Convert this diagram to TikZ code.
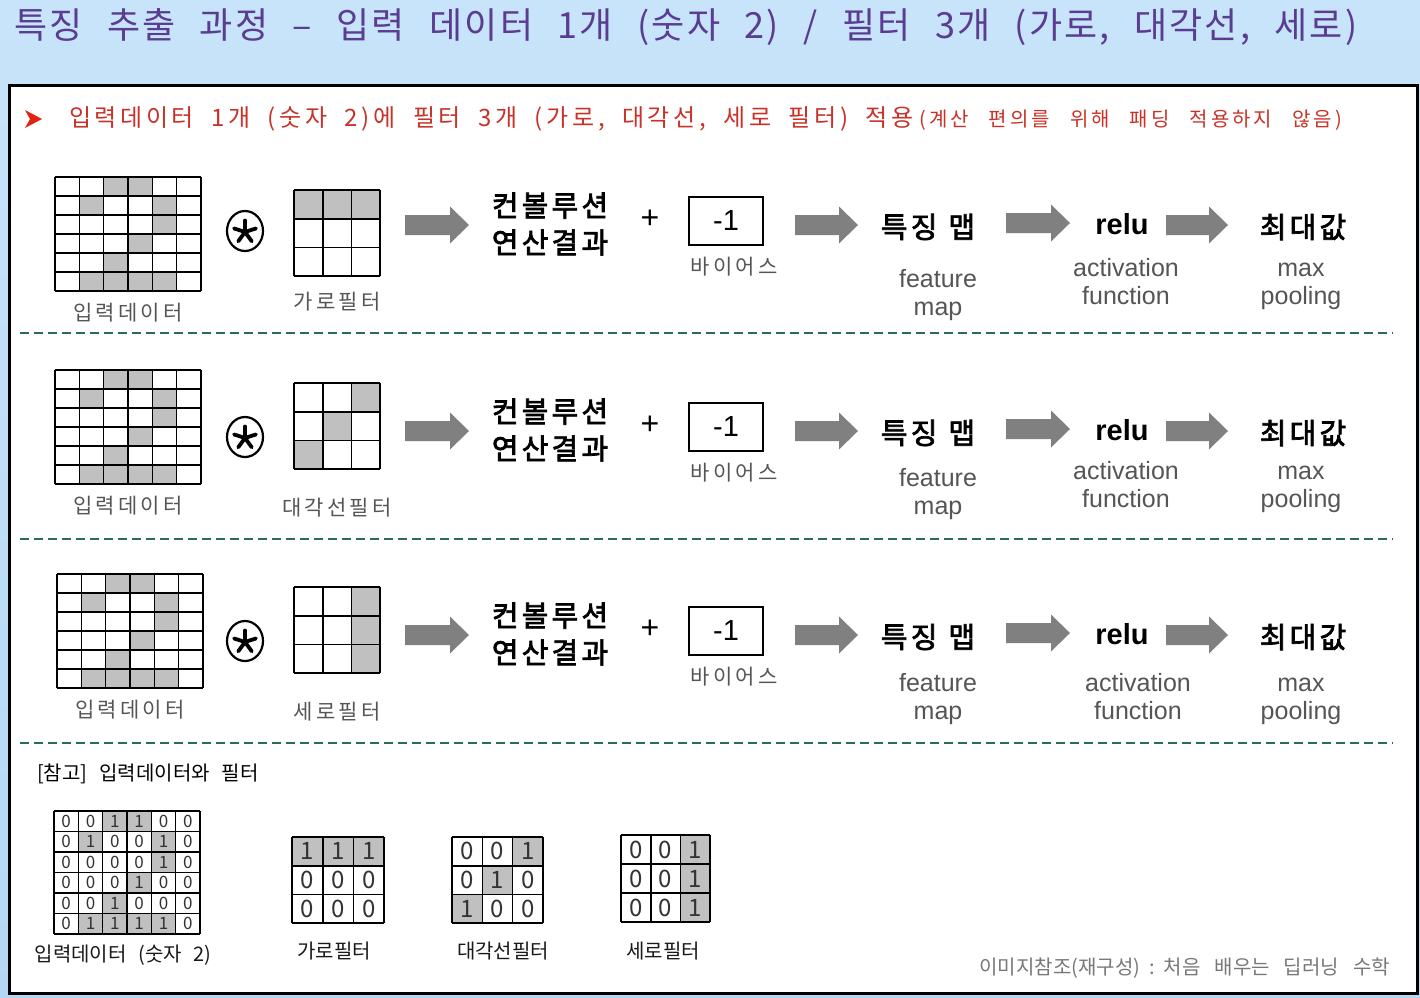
\documentclass[tikz,border=0pt]{standalone}
\usepackage{fontspec}
\setmainfont{Noto Sans CJK KR}
\newfontfamily\en{Liberation Sans}
\newfontfamily\krls[LetterSpace=15]{Noto Sans CJK KR}
\newfontfamily\krT[LetterSpace=6]{Noto Sans CJK KR}
\newfontfamily\krS[LetterSpace=15]{Noto Sans CJK KR}
\newfontfamily\krB[FakeBold=2.5,LetterSpace=11]{Noto Sans CJK KR}
\usetikzlibrary{calc}
\definecolor{titlepurple}{RGB}{90,60,145}
\definecolor{subred}{RGB}{200,50,40}
\definecolor{bulletred}{RGB}{225,35,20}
\definecolor{cellgray}{RGB}{192,192,192}
\definecolor{arrowgray}{RGB}{128,128,128}
\definecolor{dashgreen}{RGB}{40,108,92}
\definecolor{labgray}{RGB}{85,85,85}
\definecolor{creditgray}{RGB}{120,120,120}
\definecolor{bgtop}{RGB}{200,228,250}
\definecolor{bgbot}{RGB}{180,216,244}
\newcommand\fs[2]{\fontsize{#1}{#2}\selectfont}
\newcommand\hs[1]{\hspace{#1pt}}
\def\dInput{{0,0,1,1,0,0},{0,1,0,0,1,0},{0,0,0,0,1,0},{0,0,0,1,0,0},{0,0,1,0,0,0},{0,1,1,1,1,0}}
\def\dHor{{1,1,1},{0,0,0},{0,0,0}}
\def\dDia{{0,0,1},{0,1,0},{1,0,0}}
\def\dVer{{0,0,1},{0,0,1},{0,0,1}}
\tikzset{
 gridline/.style={line width=1.6pt, black},
 bigk/.style={inner sep=0, font=\krB\fs{29}{37}, align=center, text=black},
 labk/.style={inner sep=0, font=\krls\fs{21}{25}, text=labgray},
 eng/.style={inner sep=0, font=\en\fs{25}{28}, align=center, text=labgray},
 bigen/.style={inner sep=0, font=\en\bfseries\fs{29}{34}, text=black},
 dashline/.style={dashgreen, line width=2.5pt, dash pattern=on 9pt off 5pt},
 numtxt/.style={inner sep=0, text=black!80},
 bl/.style={inner sep=0, font=\fs{20}{24}, text=black!90},
}
% x0, y0, cell w, cell h, ncols, nrows, data, number font, name prefix
\newcommand\matgrid[9]{%
  \foreach [count=\rr] \rowvals in #7 {%
    \foreach [count=\cc] \val in \rowvals {%
      \ifnum\val=1 \fill[cellgray] ({#1+(\cc-1)*#3},{#2+(\rr-1)*#4}) rectangle ++(#3,#4);\fi
    }}%
  \foreach \i in {0,...,#5} \draw[gridline] ({#1+\i*#3},{#2}) -- ++(0,{#6*#4});
  \foreach \j in {0,...,#6} \draw[gridline] (#1,{#2+\j*#4}) -- ++({#5*#3},0);
  \if\relax\detokenize{#8}\relax\else
  \foreach [count=\rr] \rowvals in #7 {%
    \foreach [count=\cc] \val in \rowvals {%
      \node[numtxt, font=#8] (#9-\rr-\cc) at ({#1+(\cc-0.5)*#3},{#2+(\rr-0.5)*#4}) {\val};
    }}%
  \fi
}
\newcommand\barrow[3]{\fill[arrowgray] (#1,{#3-10}) -- ({#2-19},{#3-10}) -- ({#2-19},{#3-18.5}) -- (#2,{#3}) -- ({#2-19},{#3+18.5}) -- ({#2-19},{#3+10}) -- (#1,{#3+10}) -- cycle;}
\newcommand\engtwo[2]{\vphantom{Afp}#1\\\vphantom{Afp}#2}
% lo, ro, grid x, filter data, filter name, feature y, act x, act y, row name
\newcommand\procrow[9]{%
  \matgrid{#3}{177+#1}{24.33}{19}{6}{6}{\dInput}{}{g#9}
  \node[labk] (inlab#9) at ({#3+73},{313+#1}) {입력데이터};
  \draw[line width=2.2pt] (245,{231+#2}) ellipse [x radius=18, y radius=20];
  \coordinate (star#9) at (245,{232+#2});
  \foreach \a in {270,342,54,126,198} \draw[line width=3.8pt, line cap=round] (star#9) -- ++(\a:11.5);
  \matgrid{294}{190+#1}{28.7}{28.7}{3}{3}{#4}{}{f#9}
  \node[labk] (flab#9) at (337,{302+#2}) {#5};
  \barrow{405}{469}{225+#2}
  \node[bigk] (conv#9) at (550,{224+#2}) {컨볼루션\\연산결과};
  \node[inner sep=0, font=\en\fs{32}{36}] (plus#9) at (650,{219+#2}) {+};
  \node[draw, line width=1.5pt, minimum width=74pt, minimum height=48pt, inner sep=0, font=\en\fs{29}{32}] (bias#9) at (726,{221+#2}) {-1};
  \node[labk] (biaslab#9) at (734,{267+#2}) {바이어스};
  \barrow{795}{858}{225+#2}
  \node[bigk] (fmap#9) at (928,{227+#2}) {특징\hs{11}맵};
  \node[eng] (fmapen#9) at (938,{#6+16}) {\engtwo{feature}{map}};
  \barrow{1006}{1070}{223+#2}
  \node[bigen] (relu#9) at (1122,{224+#2}) {relu};
  \node[eng] (act#9) at (#7,{#8+16}) {\engtwo{activation}{function}};
  \barrow{1166}{1228}{225+#2}
  \node[bigk] (maxp#9) at (1303,{227+#2}) {최대값};
  \node[eng] (maxen#9) at (1301,{#8+16}) {\engtwo{max}{pooling}};
  \draw[dashline] (20,{333+#2}) -- (1393,{333+#2});
}
\begin{document}
\begin{tikzpicture}[x=1pt,y=-1pt]
\useasboundingbox (0,0) rectangle (1420,997);
\shade[top color=bgtop, bottom color=bgbot] (0,0) rectangle (1420,997);
\node[anchor=base west, inner sep=0, text=titlepurple, font=\krT\fs{36}{40}] (title) at (14,38) {특징\hs{24.5}추출\hs{24.5}과정\hs{24.5}–\hs{24.5}입력\hs{24.5}데이터\hs{24.5}1개\hs{24.5}(숫자\hs{24.5}2)\hs{24.5}/\hs{24.5}필터\hs{24.5}3개\hs{24.5}(가로,\hs{24.5}대각선,\hs{24.5}세로)};
\draw[line width=3pt, fill=white] (9,85) rectangle (1417,993);
\fill[bulletred] (25,110) -- (42,119) -- (25,128) -- (30,119) -- cycle;
\node[anchor=west, inner sep=0, text=subred, font=\krS\fs{24}{28}] (sub) at (69,119) {입력데이터\hs{17.5}1개\hs{17.5}(숫자\hs{17.5}2)에\hs{17.5}필터\hs{17.5}3개\hs{17.5}(가로,\hs{17.5}대각선,\hs{17.5}세로\hs{17.5}필터)\hs{17.5}적용\hs{6}{\fs{20}{24}(계산\hs{20}편의를\hs{20}위해\hs{20}패딩\hs{20}적용하지\hs{20}않음)}};
\procrow{0}{0}{55}{\dHor}{가로필터}{279}{1126}{268}{a}
\procrow{193}{206}{55}{\dDia}{대각선필터}{478}{1126}{471}{b}
\procrow{397}{410}{57}{\dVer}{세로필터}{683}{1138}{683}{c}
\node[anchor=west, inner sep=0, font=\fs{20}{24}, text=black] (ref) at (37,774) {[참고]\hs{12}입력데이터와\hs{12}필터};
\matgrid{54}{811}{24.33}{20.5}{6}{6}{\dInput}{\fs{17}{20}}{bi}
\node[bl] (bilab) at (123,955) {입력데이터\hs{12}(숫자\hs{11}2)};
\matgrid{292}{837}{30.7}{28.7}{3}{3}{\dHor}{\fs{24}{28}}{bh}
\node[bl] (bhlab) at (334,951) {가로필터};
\matgrid{452}{837}{30.3}{28.7}{3}{3}{\dDia}{\fs{24}{28}}{bd}
\node[bl] (bdlab) at (503,951) {대각선필터};
\matgrid{621}{835}{29.7}{29}{3}{3}{\dVer}{\fs{24}{28}}{bv}
\node[bl] (bvlab) at (663,951) {세로필터};
\node[anchor=east, inner sep=0, font=\fs{20}{24}, text=creditgray] (credit) at (1390,968) {이미지참조(재구성)\hs{9}:\hs{9}처음\hs{14}배우는\hs{14}딥러닝\hs{14}수학};
\end{tikzpicture}
\end{document}
